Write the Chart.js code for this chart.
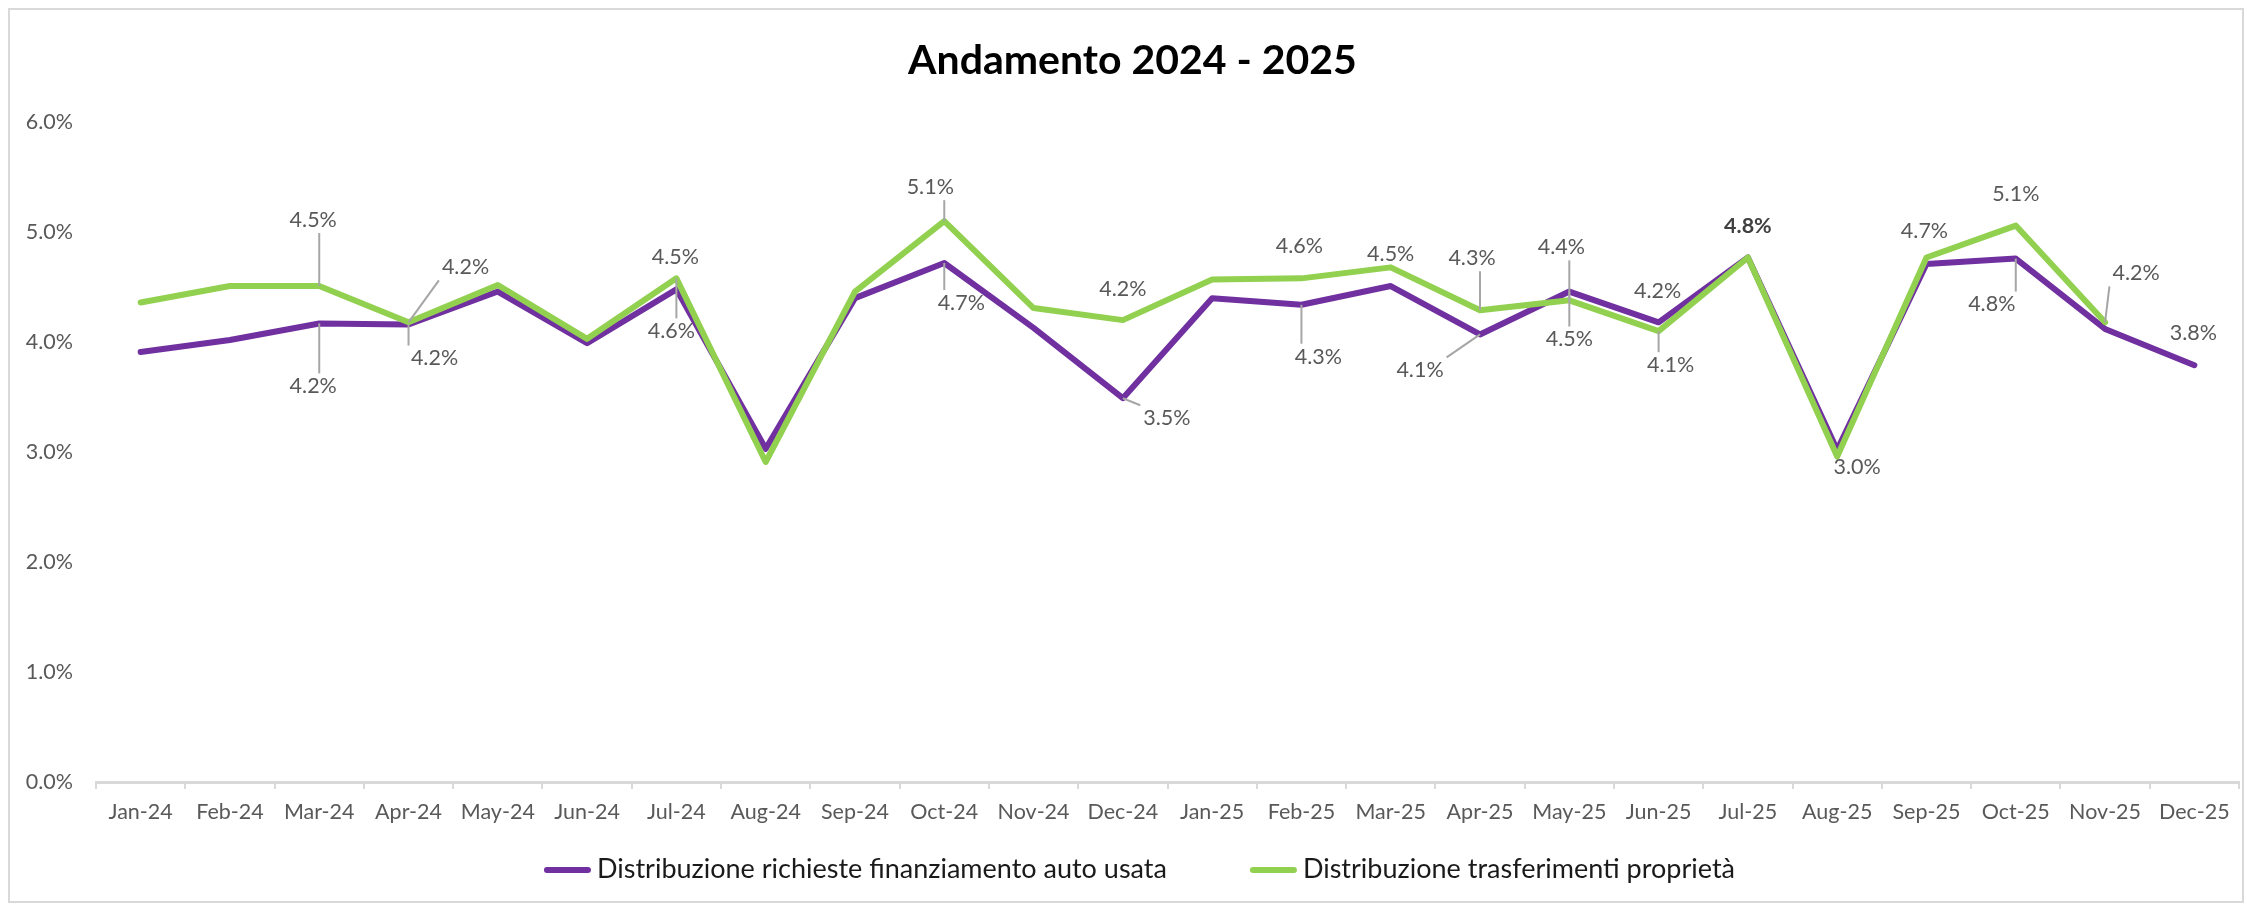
<!DOCTYPE html>
<html>
<head>
<meta charset="utf-8">
<script src="https://cdn.jsdelivr.net/npm/chart.js@4"></script>
<style>
html, body { margin: 0; padding: 0; background: #fff; }
</style>
</head>
<body>
<canvas id="chart" width="2247" height="906"></canvas>
<script>
const months = ['Jan-24','Feb-24','Mar-24','Apr-24','May-24','Jun-24','Jul-24','Aug-24','Sep-24','Oct-24','Nov-24','Dec-24',
                'Jan-25','Feb-25','Mar-25','Apr-25','May-25','Jun-25','Jul-25','Aug-25','Sep-25','Oct-25','Nov-25','Dec-25']

// values in %
const richieste     = [3.91, 4.02, 4.17, 4.16, 4.46, 3.99, 4.48, 3.03, 4.40, 4.72, 4.13, 3.49,
                       4.40, 4.34, 4.51, 4.07, 4.46, 4.18, 4.77, 3.02, 4.71, 4.76, 4.12, 3.79]
const trasferimenti = [4.36, 4.51, 4.51, 4.18, 4.52, 4.03, 4.58, 2.91, 4.46, 5.10, 4.31, 4.20,
                       4.57, 4.58, 4.68, 4.29, 4.38, 4.10, 4.77, 2.96, 4.77, 5.06, 4.18, null]

const seriesNames = ['Distribuzione richieste finanziamento auto usata', 'Distribuzione trasferimenti proprietà']
const yMax = 6

// labelled points: [dataset, month index, dx, dy, leader line, bold]
const labelSpots = [
  [1, 2, -6, -66, true], [0, 2, -6, 63, true],
  [1, 3, 57, -55, true], [0, 3, 26, 34, true],
  [0, 6, -1, -32], [1, 6, -5, 53, true],
  [1, 9, -14, -34, true], [0, 9, 17, 40, true],
  [1, 11, 0, -31], [0, 11, 44, 20, true],
  [1, 13, -2, -32], [0, 13, 17, 52, true],
  [0, 14, 0, -32],
  [1, 15, -8, -52, true], [0, 15, -60, 36, true],
  [1, 16, -8, -53, true], [0, 16, 0, 48, true],
  [0, 17, -1, -31], [1, 17, 12, 34, true],
  [1, 18, 0, -31, false, true],
  [1, 19, 20, 11],
  [0, 20, -2, -33],
  [1, 21, 0, -32], [0, 21, -24, 46, true],
  [1, 22, 31, -49, true],
  [0, 23, -1, -32]
]

const frame = {
  id: 'frame',
  beforeDraw(chart) {
    const ctx = chart.ctx
    ctx.save()
    ctx.fillStyle = '#fff'
    ctx.fillRect(0, 0, chart.width, chart.height)
    ctx.strokeStyle = '#d9d9d9'
    ctx.lineWidth = 2
    ctx.strokeRect(9, 9, chart.width - 13, chart.height - 13)
    ctx.restore()
  }
}

const valueLabels = {
  id: 'valueLabels',
  afterDatasetsDraw(chart) {
    const ctx = chart.ctx
    ctx.save()
    ctx.textAlign = 'center'
    ctx.textBaseline = 'middle'
    for (const [ds, i, dx, dy, leader, bold] of labelSpots) {
      const pt = chart.getDatasetMeta(ds).data[i]
      const txt = chart.data.datasets[ds].data[i].toFixed(1) + '%'
      const x = pt.x + dx, y = pt.y + dy
      ctx.font = (bold ? 'bold ' : '') + '21.5px Lato'
      if (leader) {
        const w = ctx.measureText(txt).width / 2 + 3, h = 13
        const lx = Math.max(x - w, Math.min(pt.x, x + w))
        const ly = Math.max(y - h, Math.min(pt.y, y + h))
        ctx.strokeStyle = '#a6a6a6'
        ctx.lineWidth = 2
        ctx.beginPath()
        ctx.moveTo(lx, ly)
        ctx.lineTo(pt.x, pt.y)
        ctx.stroke()
      }
      ctx.fillStyle = bold ? '#404040' : '#595959'
      ctx.fillText(txt, x, y)
    }
    ctx.restore()
  }
}

const bottomLegend = {
  id: 'bottomLegend',
  afterDraw(chart) {
    const ctx = chart.ctx
    const sets = chart.data.datasets
    const lineLen = 47, gapText = 6, gapItems = 83, y = 869
    ctx.save()
    ctx.font = '27px Lato'
    const widths = sets.map(d => lineLen + gapText + ctx.measureText(d.label).width)
    const total = widths.reduce((a, b) => a + b) + gapItems * (sets.length - 1)
    let x = chart.width / 2 + 16 - total / 2
    sets.forEach((d, k) => {
      ctx.strokeStyle = d.borderColor
      ctx.lineWidth = 6
      ctx.lineCap = 'round'
      ctx.beginPath()
      ctx.moveTo(x + 3, y + 1)
      ctx.lineTo(x + lineLen - 3, y + 1)
      ctx.stroke()
      ctx.fillStyle = '#1a1a1a'
      ctx.textAlign = 'left'
      ctx.textBaseline = 'middle'
      ctx.fillText(d.label, x + lineLen + gapText, y)
      x += widths[k] + gapItems
    })
    ctx.restore()
  }
}

const tickFont = { family: 'Lato', size: 21.5 }

new Chart(document.getElementById('chart'), {
  type: 'line',
  data: {
    labels: months,
    datasets: [
      { label: seriesNames[0], data: richieste, borderColor: '#7030A0', backgroundColor: '#7030A0', borderWidth: 6, order: 1 },
      { label: seriesNames[1], data: trasferimenti, borderColor: '#92D050', backgroundColor: '#92D050', borderWidth: 6, order: 0 }
    ]
  },
  options: {
    responsive: false,
    devicePixelRatio: 1,
    animation: false,
    layout: { padding: { left: 26, right: 8, top: 0, bottom: 0 } },
    elements: {
      point: { radius: 0, hoverRadius: 0 },
      line: { tension: 0, borderJoinStyle: 'round', borderCapStyle: 'round' }
    },
    plugins: {
      legend: { display: false },
      tooltip: { enabled: false },
      title: {
        display: true,
        text: 'Andamento 2024 - 2025',
        color: '#000',
        font: { family: 'Lato', size: 41, weight: 'bold' },
        padding: { top: 36, bottom: 37 }
      }
    },
    scales: {
      x: {
        offset: true,
        grid: { offset: true, drawOnChartArea: false, tickLength: 7, color: '#d9d9d9', lineWidth: 2 },
        border: { color: '#d9d9d9', width: 3 },
        ticks: { color: '#595959', font: tickFont, padding: 10, maxRotation: 0, autoSkip: false },
        afterFit(s) { s.height = 124 }
      },
      y: {
        min: 0,
        max: yMax,
        grid: { display: false, drawTicks: false },
        border: { display: false },
        ticks: { stepSize: 1, padding: 23, color: '#595959', font: tickFont, callback: v => v.toFixed(1) + '%' },
        afterFit(s) { s.width = 70 }
      }
    }
  },
  plugins: [frame, valueLabels, bottomLegend]
})
</script>
</body>
</html>
